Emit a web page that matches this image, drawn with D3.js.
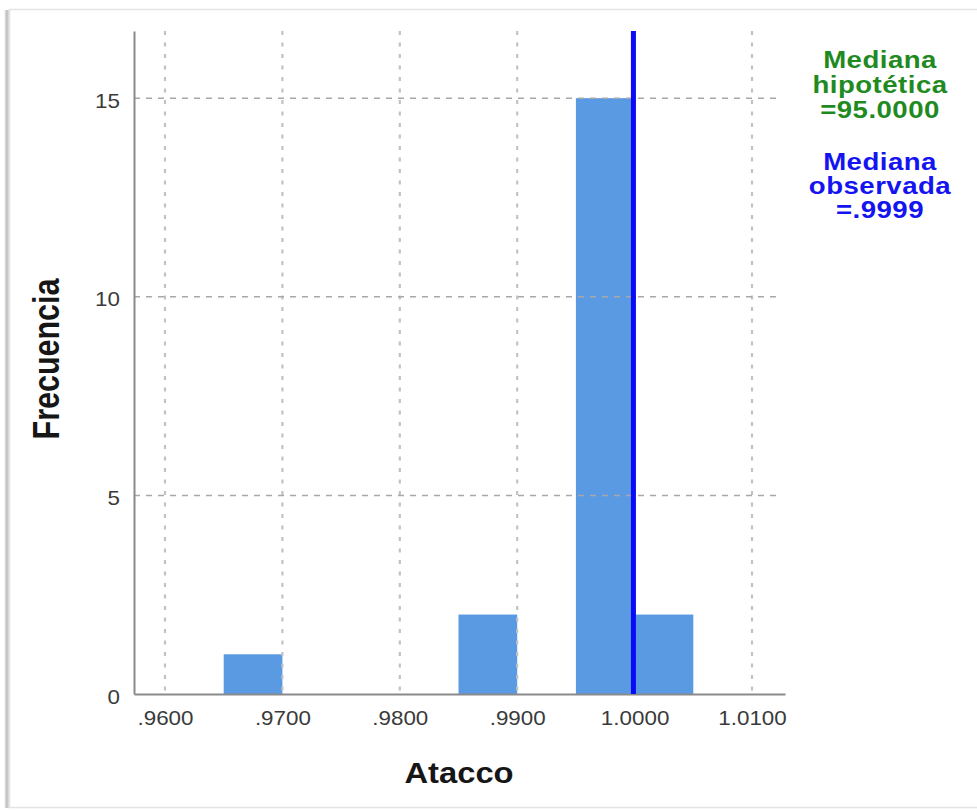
<!DOCTYPE html>
<html>
<head>
<meta charset="utf-8">
<script src="https://cdn.jsdelivr.net/npm/d3@7"></script>
<style>
  html, body { margin: 0; padding: 0; background: #ffffff; }
  svg { display: block; font-family: "Liberation Sans", Arial, sans-serif; }
</style>
</head>
<body>
<svg id="chart" width="977" height="810"></svg>
<script>
// ---- data ----
const binStarts = [0.965, 0.985, 0.995, 1.000];
const binWidth = 0.005;
const counts = [1, 2, 15, 2];
const xTickValues = [0.96, 0.97, 0.98, 0.99, 1.00, 1.01];
const xTickLabels = [".9600", ".9700", ".9800", ".9900", "1.0000", "1.0100"];
const yTickValues = [0, 5, 10, 15];
const yTickLabels = ["0", "5", "10", "15"];
const observedMedian = 0.9999;
const legendHyp = ["Mediana", "hipotética", "=95.0000"];
const legendObs = ["Mediana", "observada", "=.9999"];
const xTitle = "Atacco";
const yTitle = "Frecuencia";

// ---- layout ----
const svg = d3.select("#chart");
const plot = { left: 134, right: 785, top: 31, bottom: 694 };

const x = d3.scaleLinear().domain([0.95736, 1.01281]).range([plot.left, plot.right]);
const y = d3.scaleLinear().domain([0, 16.69]).range([plot.bottom, plot.top]);

// ---- frame with shadow ----
const defs = svg.append("defs");
const lg = defs.append("linearGradient").attr("id", "shL").attr("x1", "0").attr("x2", "1");
lg.append("stop").attr("offset", "0").attr("stop-color", "#ffffff");
lg.append("stop").attr("offset", "0.45").attr("stop-color", "#bdbdbd");
lg.append("stop").attr("offset", "1").attr("stop-color", "#ececec");
svg.append("rect").attr("x", 4).attr("y", 10).attr("width", 6).attr("height", 798).attr("fill", "url(#shL)");
svg.append("rect").attr("x", 9.5).attr("y", 9.5).attr("width", 1000).attr("height", 798)
  .attr("fill", "#ffffff").attr("stroke", "#e4e4e4").attr("stroke-width", 1.5);

// ---- bars ----
svg.append("g").selectAll("rect").data(binStarts).join("rect")
  .attr("x", d => x(d))
  .attr("width", d => x(d + binWidth) - x(d))
  .attr("y", (d, i) => y(counts[i]))
  .attr("height", (d, i) => y(0) - y(counts[i]))
  .attr("fill", "#5a9ae3");

// ---- grid lines ----
svg.append("g").selectAll("line").data(xTickValues).join("line")
  .attr("x1", d => x(d)).attr("x2", d => x(d))
  .attr("y1", plot.top).attr("y2", plot.bottom)
  .attr("stroke", "#c2c2c2").attr("stroke-width", 2.2)
  .attr("stroke-dasharray", "4,7.5");
svg.append("g").selectAll("line").data(yTickValues.filter(v => v > 0)).join("line")
  .attr("x1", plot.left).attr("x2", plot.right - 8)
  .attr("y1", d => y(d)).attr("y2", d => y(d))
  .attr("stroke", "#a8a8a8").attr("stroke-width", 1.5)
  .attr("stroke-dasharray", "6,6");

// ---- axes ----
const xAxis = d3.axisBottom(x).tickValues(xTickValues).tickSize(0).tickPadding(17)
  .tickFormat((d, i) => xTickLabels[i]);
const gx = svg.append("g").attr("transform", `translate(0,${plot.bottom})`).call(xAxis);
gx.select(".domain").attr("stroke", "#8a8a8a").attr("stroke-width", 2);
gx.selectAll("text").attr("font-size", 20).attr("fill", "#3a3a3a")
  .attr("font-family", "Liberation Sans, Arial, sans-serif")
  .attr("transform", "scale(1.12,1)");

const yAxis = d3.axisLeft(y).tickValues(yTickValues).tickSize(0).tickPadding(12.5)
  .tickFormat((d, i) => yTickLabels[i]);
const gy = svg.append("g").attr("transform", `translate(${plot.left},0)`).call(yAxis);
gy.select(".domain").attr("stroke", "#8a8a8a").attr("stroke-width", 2);
gy.selectAll("text").attr("font-size", 20).attr("fill", "#3a3a3a")
  .attr("font-family", "Liberation Sans, Arial, sans-serif")
  .attr("dy", "0.45em")
  .attr("transform", "scale(1.12,1)");

// ---- observed median line ----
svg.append("line")
  .attr("x1", x(observedMedian)).attr("x2", x(observedMedian))
  .attr("y1", plot.top).attr("y2", plot.bottom)
  .attr("stroke", "#0a0af5").attr("stroke-width", 5);

// ---- axis titles ----
svg.append("text")
  .attr("transform", `translate(459,783) scale(1.13,1)`)
  .attr("text-anchor", "middle")
  .attr("font-size", 29).attr("font-weight", "bold").attr("fill", "#161616")
  .text(xTitle);
svg.append("text")
  .attr("transform", `translate(59,359) rotate(-90) scale(1,1.2)`)
  .attr("text-anchor", "middle")
  .attr("font-size", 30.5).attr("font-weight", "bold").attr("fill", "#161616")
  .text(yTitle);

// ---- legend texts ----
function legendBlock(lines, baselines, color) {
  lines.forEach((t, i) => {
    svg.append("text")
      .attr("transform", `translate(880,${baselines[i]}) scale(1.2,1)`)
      .attr("text-anchor", "middle")
      .attr("font-size", 23).attr("font-weight", "bold")
      .attr("letter-spacing", 0.4)
      .attr("fill", color)
      .text(t);
  });
}
legendBlock(legendHyp, [68, 93, 118], "#1f8a1f");
legendBlock(legendObs, [170, 194, 218], "#1414f0");
</script>
</body>
</html>
